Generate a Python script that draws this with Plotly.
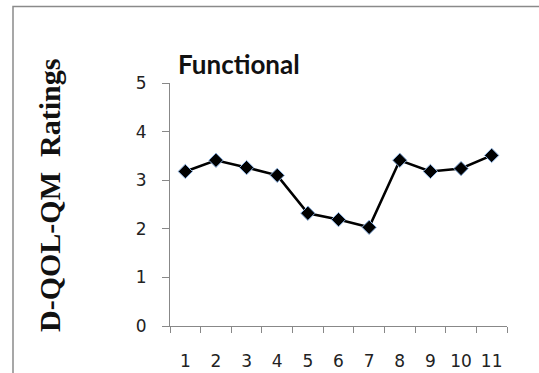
import plotly.graph_objects as go

categories = ["1", "2", "3", "4", "5", "6", "7", "8", "9", "10", "11"]
ratings = [3.18, 3.41, 3.26, 3.10, 2.32, 2.19, 2.03, 3.41, 3.18, 3.24, 3.51]
y_ticks = [0, 1, 2, 3, 4, 5]
chart_title = "Functional"
y_title = "D-QOL-QM \u00a0Ratings"

W, H = 539, 373
L, R, T, B = 170, 32, 83, 47
pw, ph = W - L - R, H - T - B

def px(x):
    return (x - L) / pw

def py(y):
    return (H - B - y) / ph

fig = go.Figure()
fig.add_trace(go.Scatter(
    x=categories, y=ratings, mode="lines+markers",
    line=dict(color="black", width=2.6),
    marker=dict(symbol="diamond", size=11, color="black",
                line=dict(color="#8db3e2", width=1)),
    cliponaxis=False,
))

axis_font = dict(family="DejaVu Sans", size=17, color="#222222")
fig.update_layout(
    width=W, height=H,
    margin=dict(l=L, r=R, t=T, b=B, autoexpand=False),
    paper_bgcolor="white", plot_bgcolor="white",
    showlegend=False,
    xaxis=dict(type="category", tickson="boundaries", range=[-0.5, 10.5],
               showline=True, linecolor="#888888", linewidth=1.2,
               ticks="outside", ticklen=6, tickcolor="#888888", tickwidth=1.2,
               showgrid=False, zeroline=False, tickfont=axis_font,
               tickangle=0, automargin=False, ticklabelstandoff=19),
    yaxis=dict(range=[0, 5], tickvals=y_ticks, showline=True,
               linecolor="#888888", linewidth=1.2, ticks="outside", ticklen=7,
               tickcolor="#888888", tickwidth=1.2, showgrid=False,
               zeroline=False, tickfont=axis_font, automargin=False,
               ticklabelstandoff=12),
    shapes=[dict(type="rect", xref="paper", yref="paper",
                 x0=px(13), x1=px(700), y0=py(500), y1=py(6.5),
                 line=dict(color="#8a8a8a", width=1.5), layer="below")],
    annotations=[
        dict(text=chart_title, xref="paper", yref="paper", x=px(176), y=py(64),
             xanchor="left", yanchor="middle", showarrow=False,
             font=dict(family="Lato", size=26, color="#111111", weight="bold")),
        dict(text=y_title, xref="paper", yref="paper", x=px(49), y=py(196),
             xanchor="center", yanchor="middle", showarrow=False, textangle=-90,
             font=dict(family="Liberation Serif", size=30, color="#111111",
                       weight="bold")),
    ],
)

fig.write_html(
    "out.html",
    config={"displayModeBar": False},
    post_script="document.body.style.margin='0';document.body.style.overflow='hidden';",
)
